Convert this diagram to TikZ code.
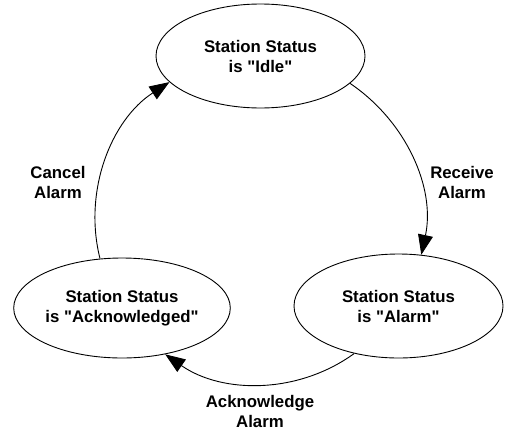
\documentclass[tikz,border=0pt]{standalone}
\usepackage{fontspec}
\setmainfont{Liberation Sans}
\usetikzlibrary{shapes.geometric,arrows.meta}
\newcommand{\sq}{\textquotedbl}
\begin{document}
\begin{tikzpicture}[x=1pt,y=-1pt,
  state/.style={draw, ellipse, line width=0.9pt, inner sep=0pt,
    minimum width=209pt, minimum height=104pt, align=center,
    font=\fontsize{16.8}{20}\selectfont\bfseries},
  lbl/.style={align=center, font=\fontsize{16.8}{20}\selectfont\bfseries},
  conn/.style={line width=0.9pt, -{Triangle[length=20pt,width=15pt]}}]
\useasboundingbox (0,0) rectangle (513,431);
\node[state] (idle) at (260.5,56) {Station Status\\is \sq Idle\sq};
\node[state] (alarm) at (398.5,306) {Station Status\\is \sq Alarm\sq};
\node[state, minimum width=210pt, minimum height=100pt] (ack) at (122,308) {Station Status\\is \sq Acknowledged\sq};
\node[lbl] (lcancel) at (58,182) {Cancel\\Alarm};
\node[lbl] (lrecv) at (462,182) {Receive\\Alarm};
\node[lbl] (lack) at (260,411) {Acknowledge\\Alarm};
\draw[conn] (idle.343.2) to[out=-34.1, in=77.9, looseness=0.94] (alarm.66.6);
\draw[conn] (alarm.227.2) to[out=215.9, in=-34.8, looseness=0.94] (ack.313.7);
\draw[conn] (ack.114.2) to[out=104.2, in=212.9, looseness=0.94] (idle.196.6);
\end{tikzpicture}
\end{document}
